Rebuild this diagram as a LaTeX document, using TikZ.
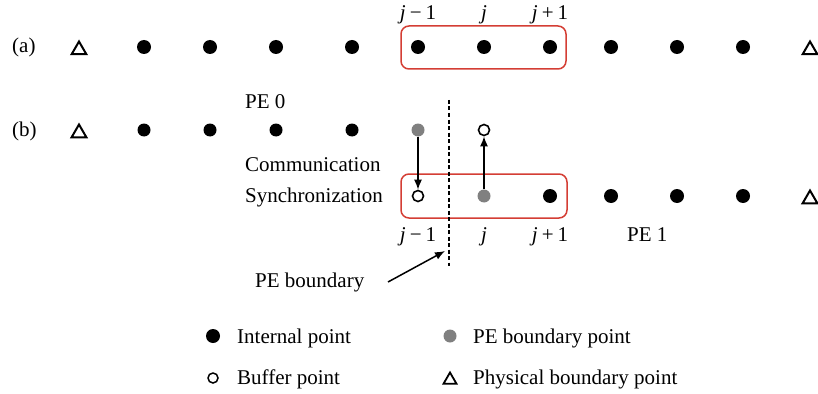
\documentclass[tikz,border=0pt]{standalone}
\usepackage{fontspec}
\setmainfont{Liberation Serif}
\usetikzlibrary{shapes.geometric,arrows.meta}
\definecolor{boxred}{RGB}{212,62,52}
\definecolor{pegray}{RGB}{128,128,128}
\begin{document}
\begin{tikzpicture}[x=1pt,y=-1pt,
  txt/.style={font=\fontsize{21}{25}\selectfont,inner sep=0pt},
  lbl/.style={txt,anchor=base west},
  jl/.style={txt,anchor=base},
  ipt/.style={circle,fill=black,inner sep=0pt,minimum size=14pt},
  ipts/.style={circle,fill=black,inner sep=0pt,minimum size=13pt},
  gpt/.style={circle,fill=pegray,inner sep=0pt,minimum size=13pt},
  bpt/.style={circle,draw=black,line width=1.6pt,fill=white,inner sep=0pt,minimum size=11pt},
  bpts/.style={circle,draw=black,line width=1.5pt,fill=white,inner sep=0pt,minimum size=10pt},
  tri/.style={regular polygon,regular polygon sides=3,draw=black,line width=2pt,inner sep=0pt,minimum size=17pt},
  rbox/.style={draw=boxred,line width=1.5pt,rounded corners=8pt},
  arr/.style={line width=1.5pt,-{Latex[length=10pt,width=8pt]}}
]
\useasboundingbox (0,0) rectangle (818,393);
% row (a)
\node[lbl] (la) at (12,53) {(a)};
\node[tri] (a0) at (79,50) {};
\foreach \i/\x in {1/144,2/210,3/276,4/352,5/418,6/484,7/550,8/611,9/677,10/743}
  \node[ipt] (a\i) at (\x,47) {};
\node[tri] (a11) at (810,50) {};
\node[jl] (ja1) at (418,20) {\textit{j}\hspace{4pt}−\hspace{4pt}1};
\node[jl] (ja2) at (484,20) {\textit{j}};
\node[jl] (ja3) at (550,20) {\textit{j}\hspace{4pt}+\hspace{4pt}1};
\draw[rbox] (401,26) rectangle (566,69);
% row (b)
\node[lbl] (lb) at (12,136) {(b)};
\node[lbl] (pe0) at (245,108) {PE 0};
\node[tri] (b0) at (79,133) {};
\foreach \i/\x in {1/144,2/210,3/276,4/352}
  \node[ipts] (b\i) at (\x,130) {};
\node[gpt] (b5) at (418,130) {};
\node[bpt] (b6) at (484,130) {};
% row (c)
\node[lbl] (comm) at (245,171) {Communication};
\node[lbl] (sync) at (245,202) {Synchronization};
\node[bpt] (c5) at (418,196) {};
\node[gpt] (c6) at (484,196) {};
\foreach \i/\x in {7/550,8/611,9/677,10/743}
  \node[ipt] (c\i) at (\x,196) {};
\node[tri] (c11) at (810,199) {};
\draw[rbox] (401,174) rectangle (567,218);
\node[jl] (jc1) at (418,241) {\textit{j}\hspace{4pt}−\hspace{4pt}1};
\node[jl] (jc2) at (484,241) {\textit{j}};
\node[jl] (jc3) at (550,241) {\textit{j}\hspace{4pt}+\hspace{4pt}1};
\node[lbl] (pe1) at (627,241) {PE 1};
% arrows
\draw[arr] (b5) -- (c5);
\draw[arr] (c6) -- (b6);
% PE boundary
\coordinate (dtop) at (449,100);
\coordinate (dbot) at (449,266);
\coordinate (dtip) at (445,251);
\draw[line width=1.2pt,dash pattern=on 4pt off 2.5pt] (dtop) -- (dbot);
\node[lbl] (peb) at (255,287) {PE boundary};
\coordinate (pebs) at (388,282);
\draw[arr] (pebs) -- (dtip);
% legend
\node[ipt] (l1) at (213,336) {};
\node[lbl] (t1) at (237,343) {Internal point};
\node[gpt] (l2) at (450,336) {};
\node[lbl] (t2) at (473,343) {PE boundary point};
\node[bpts] (l3) at (213,378) {};
\node[lbl] (t3) at (237,384) {Buffer point};
\node[tri,minimum size=15pt,line width=1.8pt] (l4) at (450,380) {};
\node[lbl] (t4) at (473,384) {Physical boundary point};
\end{tikzpicture}
\end{document}
